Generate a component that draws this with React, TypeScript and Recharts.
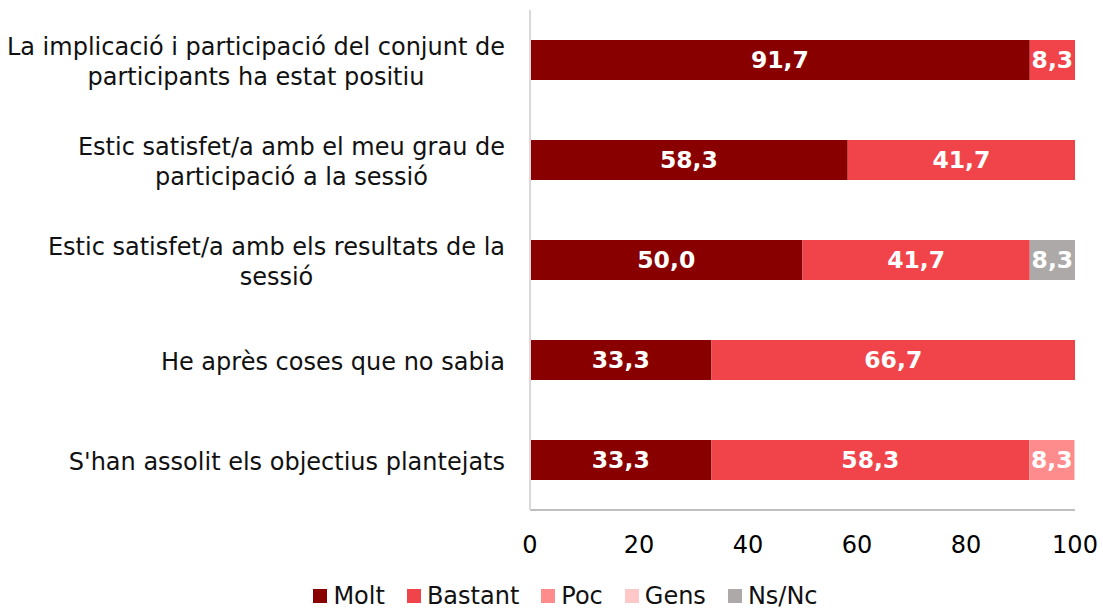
import { Bar, BarChart, LabelList, Legend, XAxis, YAxis } from "recharts";

const FONT = "DejaVu Sans";
const FONT_SIZE = 24;
const LABEL_SIZE = 23.5;

const categories = [
  ["La implicació i participació del conjunt de", "participants ha estat positiu"],
  ["Estic satisfet/a amb el meu grau de", "participació a la sessió"],
  ["Estic satisfet/a amb els resultats de la", "sessió"],
  ["He après coses que no sabia"],
  ["S'han assolit els objectius plantejats"],
];

const molt = [91.7, 58.3, 50.0, 33.3, 33.3];
const bastant = [8.3, 41.7, 41.7, 66.7, 58.3];
const poc = [0, 0, 0, 0, 8.3];
const gens = [0, 0, 0, 0, 0];
const nsnc = [0, 0, 8.3, 0, 0];

const xTicks = [0, 20, 40, 60, 80, 100];

const series = [
  { key: "molt", name: "Molt", color: "#880000" },
  { key: "bastant", name: "Bastant", color: "#F0444A" },
  { key: "poc", name: "Poc", color: "#FF8C8C" },
  { key: "gens", name: "Gens", color: "#FFC7C7" },
  { key: "nsnc", name: "Ns/Nc", color: "#ADA9A9" },
];

const data = categories.map((lines, i) => ({
  name: lines.join(" "),
  lines,
  molt: molt[i],
  bastant: bastant[i],
  poc: poc[i],
  gens: gens[i],
  nsnc: nsnc[i],
}));

let ctx: CanvasRenderingContext2D | null = null;
function textWidth(s: string) {
  if (!ctx) ctx = document.createElement("canvas").getContext("2d");
  if (!ctx) return s.length * FONT_SIZE * 0.6;
  ctx.font = `${FONT_SIZE}px "${FONT}"`;
  return ctx.measureText(s).width;
}

function CategoryTick(props: any) {
  const { x, y, payload } = props;
  const row = data.find((d) => d.name === payload.value);
  const lines = row ? row.lines : [String(payload.value)];
  const w = Math.max(...lines.map(textWidth));
  const cx = x - w / 2;
  return (
    <g>
      {lines.map((line, i) => (
        <text
          key={i}
          x={cx}
          y={y + 2 + (i - (lines.length - 1) / 2) * 30}
          textAnchor="middle"
          dominantBaseline="central"
          fontFamily={FONT}
          fontSize={FONT_SIZE}
          fill="#111"
        >
          {line}
        </text>
      ))}
    </g>
  );
}

function LegendContent() {
  return (
    <div
      style={{
        display: "flex",
        justifyContent: "center",
        paddingLeft: 78,
        fontFamily: FONT,
        fontSize: FONT_SIZE,
        color: "#111",
        height: 28,
        alignItems: "center",
      }}
    >
      {series.map((s) => (
        <div key={s.key} style={{ display: "flex", alignItems: "center", marginRight: 22 }}>
          <span style={{ width: 14, height: 14, background: s.color, marginRight: 6 }} />
          <span>{s.name}</span>
        </div>
      ))}
    </div>
  );
}

const fmt = (v: any) => (v ? Number(v).toFixed(1).replace(".", ",") : "");

export default function App() {
  return (
    <div style={{ position: "absolute", left: 0, top: 0, background: "#fff" }}>
      <BarChart
        width={1103}
        height={610}
        data={data}
        layout="vertical"
        margin={{ top: 10, right: 28, left: 0, bottom: 0 }}
        barCategoryGap={60}
      >
        <XAxis
          type="number"
          domain={[0, 100]}
          ticks={xTicks}
          height={72}
          axisLine={{ stroke: "#BFBFBF", strokeWidth: 2 }}
          tickLine={false}
          tickMargin={20}
          tick={{ fontFamily: FONT, fontSize: FONT_SIZE, fill: "#000" }}
          interval={0}
        />
        <YAxis
          type="category"
          dataKey="name"
          width={530}
          axisLine={{ stroke: "#D9D9D9", strokeWidth: 2 }}
          tickLine={false}
          tickSize={0}
          tickMargin={25}
          tick={<CategoryTick />}
          interval={0}
        />
        <Legend verticalAlign="bottom" content={<LegendContent />} />
        {series.map((s) => (
          <Bar
            key={s.key}
            dataKey={s.key}
            name={s.name}
            stackId="a"
            fill={s.color}
            barSize={40}
            isAnimationActive={false}
          >
            <LabelList
              dataKey={s.key}
              position="center"
              formatter={fmt}
              fill="#fff"
              fontFamily={FONT}
              fontSize={LABEL_SIZE}
              fontWeight="bold"
            />
          </Bar>
        ))}
      </BarChart>
    </div>
  );
}
